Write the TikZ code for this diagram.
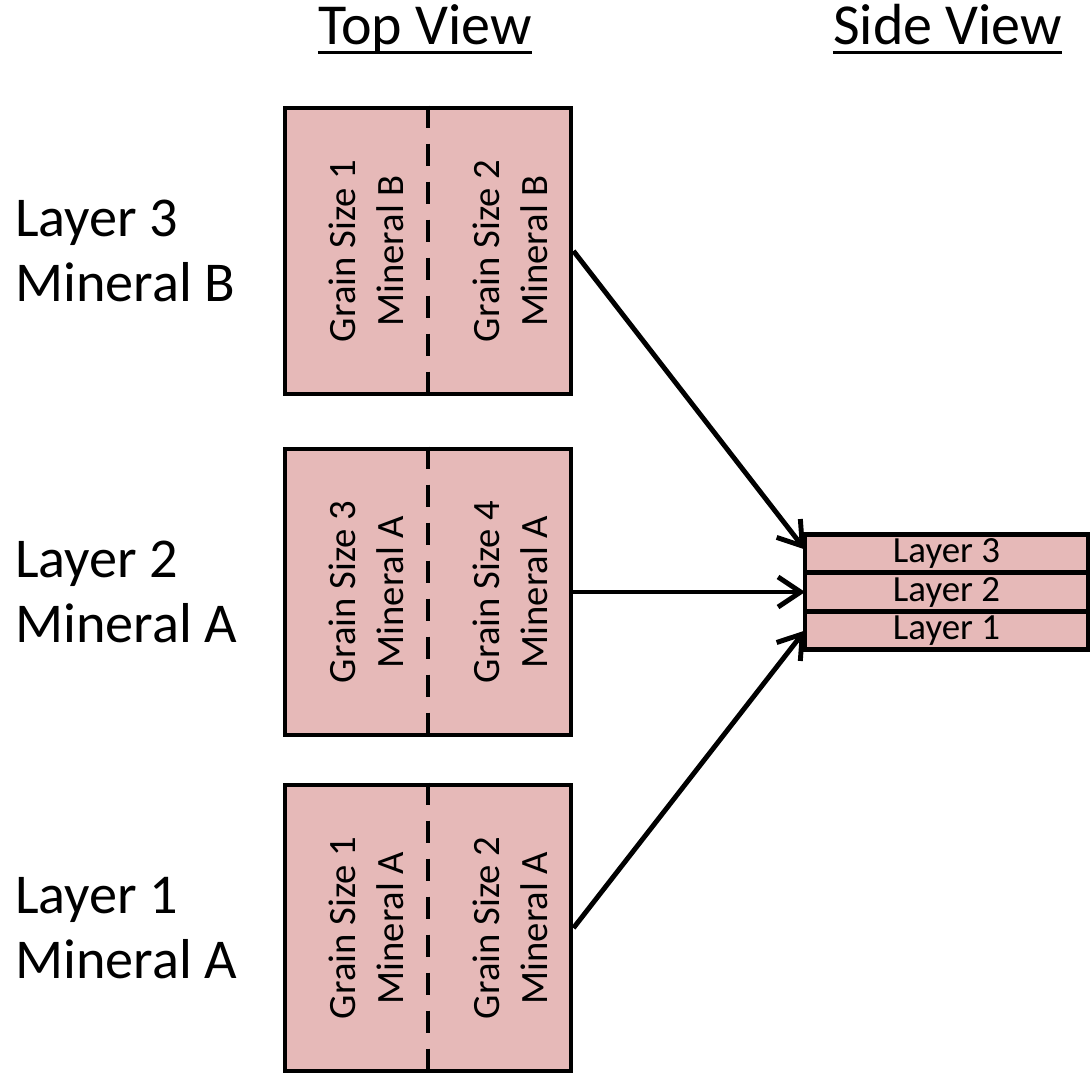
\documentclass[tikz,border=0pt]{standalone}
\usepackage{fontspec}
\setmainfont{Carlito}
\usepackage{tikz}
\usetikzlibrary{arrows.meta}
\usetikzlibrary{positioning}
\usepackage{xcolor}

\definecolor{grainpink}{HTML}{E6B9B8}

\tikzset{
    grainbox/.style = {draw, line width=2.8pt, fill=grainpink, minimum width=5.72cm, minimum height=5.72cm, inner sep=0pt},
    graintext/.style = {rotate=90, align=center, inner sep=0pt, font=\fontsize{22}{27.3}\selectfont},
    sidelayer/.style = {draw, line width=2.8pt, fill=grainpink, minimum width=5.66cm, minimum height=0.77cm, inner sep=0pt, outer sep=0pt, font=\fontsize{21}{22}\selectfont},
    layerlabel/.style = {anchor=west, align=left, inner sep=0pt, font=\fontsize{32}{37}\selectfont},
    viewtitle/.style = {anchor=base, inner sep=0pt, font=\fontsize{33}{36}\selectfont},
    feed/.style = {line width=2.8pt, -{Straight Barb[length=4.5mm,width=6mm]}}
}

\begin{document}
\begin{tikzpicture}
        \useasboundingbox (0,0) rectangle (21.8,21.44);

        \node[viewtitle] (toptitle) at (8.5,20.54) {Top View};
        \node[viewtitle] (sidetitle) at (18.95,20.54) {Side View};
        \foreach \t in {toptitle,sidetitle}
            \draw[line width=1.7pt] ([yshift=-0.15cm]\t.base west) -- ([yshift=-0.15cm]\t.base east);

        % top view of each layer
        \node[grainbox] (box3) at (8.56,16.42) {};
        \node[grainbox] (box2) at (8.56,9.6) {};
        \node[grainbox] (box1) at (8.56,2.88) {};

        \foreach \b in {box1,box2,box3}
            \draw[line width=2.8pt, dash pattern=on 0.44cm off 0.32cm] (\b.north) -- (\b.south);

        \node[graintext] (g3a) at ([xshift=-1.24cm]box3.center) {Grain Size 1\\Mineral B};
        \node[graintext] (g3b) at ([xshift=1.65cm]box3.center) {Grain Size 2\\Mineral B};
        \node[graintext] (g2a) at ([xshift=-1.24cm]box2.center) {Grain Size 3\\Mineral A};
        \node[graintext] (g2b) at ([xshift=1.65cm]box2.center) {Grain Size 4\\Mineral A};
        \node[graintext] (g1a) at ([xshift=-1.24cm]box1.center) {Grain Size 1\\Mineral A};
        \node[graintext] (g1b) at ([xshift=1.65cm]box1.center) {Grain Size 2\\Mineral A};

        \node[layerlabel] (lab3) at (0.3,16.42) {Layer 3\\Mineral B};
        \node[layerlabel] (lab2) at (0.3,9.6) {Layer 2\\Mineral A};
        \node[layerlabel] (lab1) at (0.3,2.88) {Layer 1\\Mineral A};

        % side view stack
        \node[sidelayer] (side2) at (18.93,9.6) {Layer 2};
        \node[sidelayer, above=0pt of side2] (side3) {Layer 3};
        \node[sidelayer, below=0pt of side2] (side1) {Layer 1};

        \draw[feed] (box3.east) -- ([yshift=0.08cm]side3.west);
        \draw[feed] (box2.east) -- (side2.west);
        \draw[feed] (box1.east) -- (side1.west);

\end{tikzpicture}
\end{document}
